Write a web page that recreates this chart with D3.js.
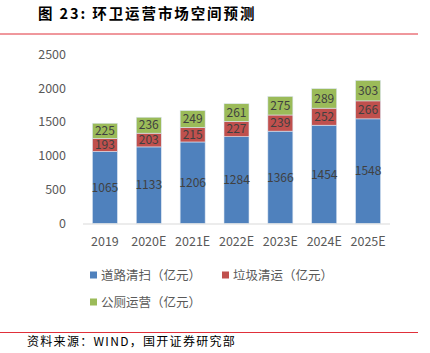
<!DOCTYPE html>
<html><head><meta charset="utf-8">
<script src="https://cdn.jsdelivr.net/npm/d3@7/dist/d3.min.js"></script>
<style>body{margin:0;background:#fff}svg{display:block}</style>
</head><body>
<svg id="c" width="430" height="353"></svg>
<script>
const categories = ["2019","2020E","2021E","2022E","2023E","2024E","2025E"];
const roadCleaning = [1065,1133,1206,1284,1366,1454,1548];
const garbageTransport = [193,203,215,227,239,252,266];
const toiletOps = [225,236,249,261,275,289,303];
const seriesNames = ["道路清扫（亿元）","垃圾清运（亿元）","公厕运营（亿元）"];
const colors = ["#4F81BD","#C0504D","#9BBB59"];
const yTicks = [0,500,1000,1500,2000,2500];

const svg = d3.select("#c");
const font = "'Noto Sans CJK SC', sans-serif";
const x = d3.scaleBand().domain(categories).range([83,390]).paddingInner(0.43).paddingOuter(0.215);
const y = d3.scaleLinear().domain([0,2500]).range([223.5,54.5]);

// title
svg.append("text").attr("x",38).attr("y",19).attr("font-family",font).attr("font-weight","bold")
  .attr("font-size",14.5).attr("letter-spacing",1.9).attr("fill","#000").text("图 23:  环卫运营市场空间预测");
svg.append("line").attr("x1",0).attr("x2",418).attr("y1",34).attr("y2",34).attr("stroke","#E0303A").attr("stroke-width",1);

// y axis labels
svg.append("g").selectAll("text").data(yTicks).join("text")
  .attr("x",66).attr("y",d=>y(d)).attr("dy","0.35em").attr("text-anchor","end")
  .attr("font-family",font).attr("font-size",12.5).attr("fill","#595959").text(d=>d);

const rows = categories.map((c,i)=>({cat:c, s:[roadCleaning[i],garbageTransport[i],toiletOps[i]]}));
const stackData = rows.map(r=>{let acc=0;return r.s.map((v,k)=>{const o={cat:r.cat,k,v,y0:acc,y1:acc+v};acc+=v;return o;});}).flat();

svg.append("g").selectAll("rect").data(stackData).join("rect")
  .attr("x",d=>x(d.cat)).attr("width",x.bandwidth())
  .attr("y",d=>y(d.y1)).attr("height",d=>y(d.y0)-y(d.y1))
  .attr("fill",d=>colors[d.k]).attr("stroke","#dce6f2").attr("stroke-width",0.6);

svg.append("g").selectAll("text").data(stackData).join("text")
  .attr("x",d=>x(d.cat)+x.bandwidth()/2).attr("y",d=>(y(d.y0)+y(d.y1))/2).attr("dy","0.35em")
  .attr("text-anchor","middle").attr("font-family",font).attr("font-size",12).attr("fill","#404040").text(d=>d.v);

// axis line
svg.append("line").attr("x1",83).attr("x2",390).attr("y1",224).attr("y2",224).attr("stroke","#d9d9d9").attr("stroke-width",1);

// x labels
svg.append("g").selectAll("text").data(categories).join("text")
  .attr("x",d=>x(d)+x.bandwidth()/2).attr("y",242).attr("dy","0.35em").attr("text-anchor","middle")
  .attr("font-family",font).attr("font-size",12.5).attr("fill","#595959").text(d=>d);

// legend
const leg = [{x:90,y:275},{x:222,y:275},{x:90,y:302}];
leg.forEach((p,i)=>{
  svg.append("rect").attr("x",p.x).attr("y",p.y-3.5).attr("width",7).attr("height",7).attr("fill",colors[i]);
  svg.append("text").attr("x",p.x+11).attr("y",p.y).attr("dy","0.36em").attr("font-family",font)
    .attr("font-size",12.5).attr("fill","#595959").text(seriesNames[i]);
});

// footer
svg.append("line").attr("x1",0).attr("x2",418).attr("y1",332.5).attr("y2",332.5).attr("stroke","#E0303A").attr("stroke-width",1);
svg.append("text").attr("x",27).attr("y",342).attr("dy","0.36em").attr("font-family",font)
  .attr("font-size",12).attr("letter-spacing",1.3).attr("fill","#000").text("资料来源：WIND，国开证券研究部");
</script>
</body></html>
